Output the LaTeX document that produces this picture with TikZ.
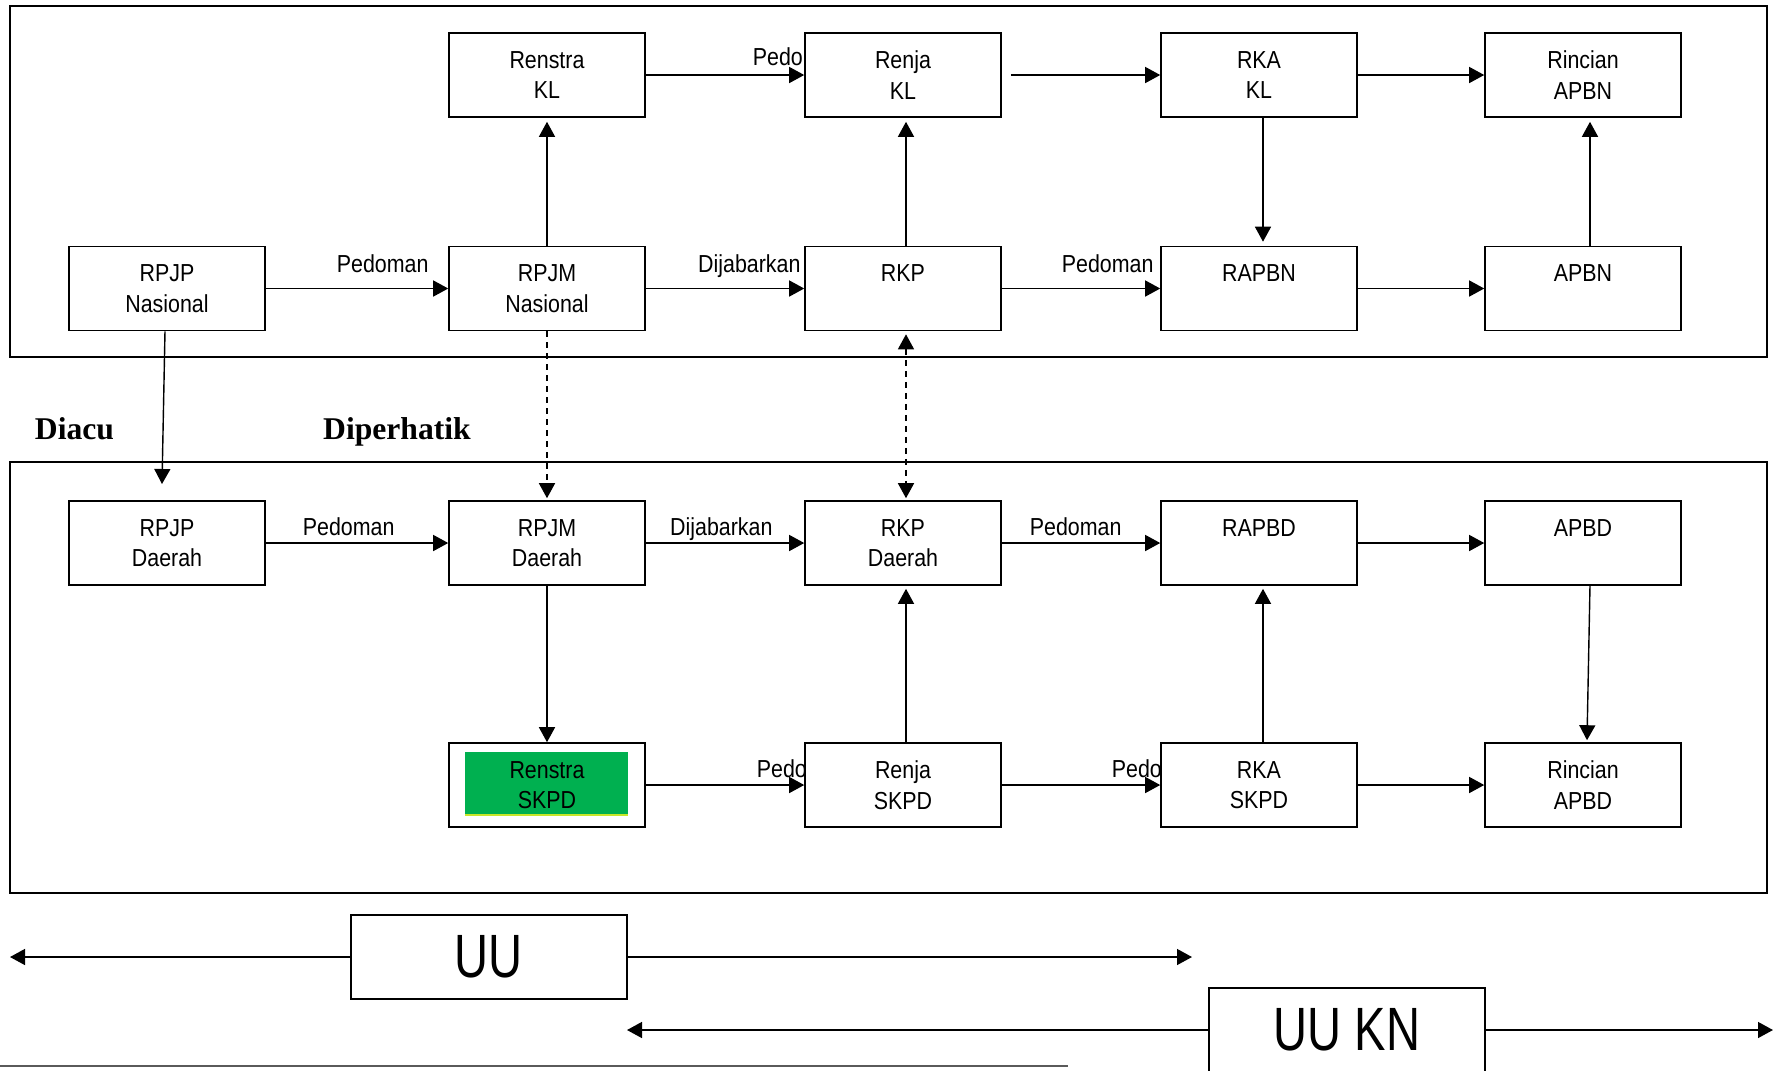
\documentclass[tikz,border=0pt]{standalone}
\usepackage{fontspec}
\newfontfamily\narrowfont[FakeStretch=0.87]{Liberation Sans}
\newfontfamily\lawfont[FakeStretch=0.77]{Liberation Sans}
\newfontfamily\headfont{Liberation Serif}
\definecolor{skpdgreen}{RGB}{0,176,80}
\definecolor{skpdedge}{RGB}{200,230,40}
\definecolor{rulegrey}{RGB}{90,90,90}
\usetikzlibrary{arrows.meta}
\usetikzlibrary{backgrounds}
\tikzstyle{box}=[draw, fill=white, line width=0.45pt, minimum width=1.96cm, minimum height=0.84cm, inner sep=0pt, align=center, font=\narrowfont\fontsize{7}{8.7}\selectfont]
\tikzstyle{lawbox}=[draw, fill=white, line width=0.45pt, minimum width=2.76cm, minimum height=0.84cm, inner sep=0pt, font=\lawfont\fontsize{17.4}{20}\selectfont]
\tikzstyle{lbl}=[inner sep=0pt, font=\narrowfont\fontsize{7}{8.7}\selectfont]
\tikzstyle{head}=[inner sep=0pt, anchor=base, font=\headfont\bfseries\fontsize{9}{11}\selectfont]
\tikzstyle{link}=[line width=0.4pt, -{Triangle[length=0.15cm, width=0.16cm]}]
\tikzstyle{frame}=[line width=0.6pt]

\begin{document}
\begin{tikzpicture}
    \path [use as bounding box, clip] (0,0) rectangle (17.74,-10.70);
    \draw [frame] (0.10,-0.06) rectangle (17.67,-3.57);
    \draw [frame] (0.10,-4.62) rectangle (17.67,-8.93);

    % nasional
    \node [box] (renstrakl) at (5.47,-0.75) {Renstra\\KL};
    \node [box] (renjakl) at (9.03,-0.75) {Renja\\KL};
    \node [box] (rkakl) at (12.59,-0.75) {RKA\\KL};
    \node [box] (rincianapbn) at (15.83,-0.75) {Rincian\\APBN};
    \node [box] (rpjpnas) at (1.67,-2.885) {RPJP\\Nasional};
    \node [box] (rpjmnas) at (5.47,-2.885) {RPJM\\Nasional};
    \node [box] (rkp) at (9.03,-2.885) {RKP\\\mbox{}};
    \node [box] (rapbn) at (12.59,-2.885) {RAPBN\\\mbox{}};
    \node [box] (apbn) at (15.83,-2.885) {APBN\\\mbox{}};

    % daerah
    \node [box] (rpjpdae) at (1.67,-5.43) {RPJP\\Daerah};
    \node [box] (rpjmdae) at (5.47,-5.43) {RPJM\\Daerah};
    \node [box] (rkpdae) at (9.03,-5.43) {RKP\\Daerah};
    \node [box] (rapbd) at (12.59,-5.43) {RAPBD\\\mbox{}};
    \node [box] (apbd) at (15.83,-5.43) {APBD\\\mbox{}};
    \fill [skpdgreen] (4.65,-7.52) rectangle (6.28,-8.15);
    \draw [skpdedge, line width=0.5pt] (4.65,-8.15) -- (6.28,-8.15);
    \node [box, fill=none] (renstraskpd) at (5.47,-7.85) {Renstra\\SKPD};
    \node [box] (renjaskpd) at (9.03,-7.85) {Renja\\SKPD};
    \node [box] (rkaskpd) at (12.59,-7.85) {RKA\\SKPD};
    \node [box] (rincianapbd) at (15.83,-7.85) {Rincian\\APBD};

    \node [head] (diacu) at (0.745,-4.39) {Diacu};
    \node [head] (diperhatik) at (3.97,-4.39) {Diperhatik};

    \draw [link] (rpjpnas) -- (rpjmnas);
    \draw [link] (rpjmnas) -- (rkp);
    \draw [link] (rkp) -- (rapbn);
    \draw [link] (rapbn) -- (apbn);
    \draw [link] (renstrakl) -- (renjakl);
    \draw [link] ([xshift=0.09cm]renjakl.east) -- (rkakl.west);
    \draw [link] (rkakl) -- (rincianapbn);
    \draw [link] (rpjmnas) -- ([yshift=-0.04cm]renstrakl.south);
    \draw [link] ([xshift=0.03cm]rkp.north) -- ([xshift=0.03cm, yshift=-0.04cm]renjakl.south);
    \draw [link] ([xshift=0.04cm]rkakl.south) -- ([xshift=0.04cm, yshift=0.04cm]rapbn.north);
    \draw [link] ([xshift=0.07cm]apbn.north) -- ([xshift=0.07cm, yshift=-0.04cm]rincianapbn.south);

    \coordinate (diacuend) at (1.62,-4.84);
    \draw [link] ([xshift=-0.02cm]rpjpnas.south) -- (diacuend);
    \draw [link, dash pattern=on 0.06cm off 0.05cm] (rpjmnas) -- ([yshift=0.02cm]rpjmdae.north);
    \draw [link, {Triangle[length=0.15cm, width=0.16cm]}-{Triangle[length=0.15cm, width=0.16cm]}, dash pattern=on 0.06cm off 0.05cm] ([xshift=0.03cm, yshift=-0.03cm]rkp.south) -- ([xshift=0.03cm, yshift=0.02cm]rkpdae.north);

    \draw [link] (rpjpdae) -- (rpjmdae);
    \draw [link] (rpjmdae) -- (rkpdae);
    \draw [link] (rkpdae) -- (rapbd);
    \draw [link] (rapbd) -- (apbd);
    \draw [link] (rpjmdae) -- (renstraskpd);
    \draw [link] ([xshift=0.03cm]renjaskpd.north) -- ([xshift=0.03cm, yshift=-0.03cm]rkpdae.south);
    \draw [link] ([xshift=0.04cm]rkaskpd.north) -- ([xshift=0.04cm, yshift=-0.03cm]rapbd.south);
    \draw [link] ([xshift=0.07cm]apbd.south) -- ([xshift=0.04cm, yshift=0.02cm]rincianapbd.north);
    \draw [link] (renstraskpd) -- (renjaskpd);
    \draw [link] (renjaskpd) -- (rkaskpd);
    \draw [link] (rkaskpd) -- (rincianapbd);

    \node [lbl, anchor=base east] (lblpedoman1) at ([shift={(-0.19,0.16)}]rpjmnas.west) {Pedoman};
    \node [lbl, anchor=base east] (lbldijabar1) at ([shift={(-0.03,0.16)}]rkp.west) {Dijabarkan};
    \node [lbl, anchor=base east] (lblpedoman2) at ([shift={(-0.06,0.16)}]rapbn.west) {Pedoman};
    \node [lbl, anchor=base east] (lblpedoman3) at ([shift={(-0.53,0.08)}]rpjmdae.west) {Pedoman};
    \node [lbl, anchor=base east] (lbldijabar2) at ([shift={(-0.31,0.08)}]rkpdae.west) {Dijabarkan};
    \node [lbl, anchor=base east] (lblpedoman4) at ([shift={(-0.38,0.08)}]rapbd.west) {Pedoman};
    % these run under the next box
    \begin{scope}[on background layer]
        \node [lbl, anchor=base west] (lblpedoman5) at ([shift={(-0.52,0.10)}]renjakl.west) {Pedoman};
        \node [lbl, anchor=base west] (lblpedoman6) at ([shift={(-0.48,0.08)}]renjaskpd.west) {Pedoman};
        \node [lbl, anchor=base west] (lblpedoman7) at ([shift={(-0.49,0.08)}]rkaskpd.west) {Pedoman};
    \end{scope}

    % undang-undang
    \node [lawbox] (uu) at (4.89,-9.57) {UU};
    \node [lawbox] (uukn) at (13.47,-10.30) {UU KN};
    \coordinate (uuleft) at (0.10,-9.57);
    \coordinate (uuright) at (11.92,-9.57);
    \coordinate (uuknleft) at (6.27,-10.30);
    \coordinate (uuknright) at (17.73,-10.30);
    \draw [link] (uu) -- (uuleft);
    \draw [link] (uu) -- (uuright);
    \draw [link] (uukn) -- (uuknleft);
    \draw [link] (uukn) -- (uuknright);
    \draw [rulegrey, line width=0.7pt] (0,-10.66) -- (10.68,-10.66);
\end{tikzpicture}
\end{document}
